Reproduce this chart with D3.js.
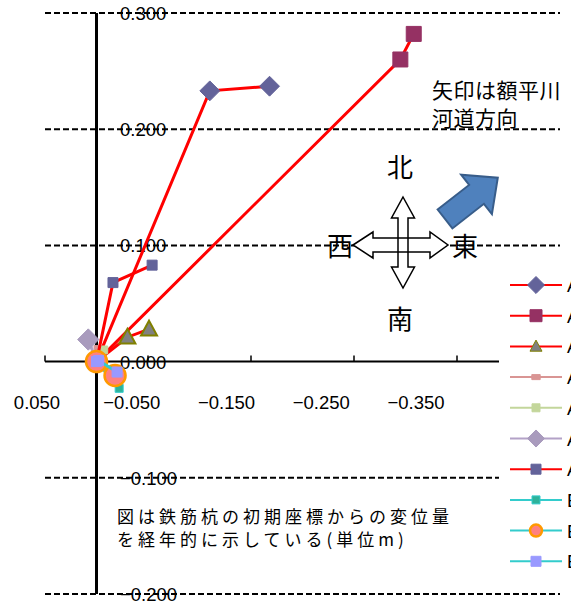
<!DOCTYPE html>
<html>
<head>
<meta charset="utf-8">
<script src="https://cdn.jsdelivr.net/npm/d3@7"></script>
<style>
  html, body { margin: 0; padding: 0; background: #fff; overflow: hidden; }
  svg { display: block; }
</style>
</head>
<body>
<div id="chart"></div>
<script>
// Displacement of survey pins from initial coordinates (m), x = east-west, y = north-south

const seriesNames = ['A-1', 'A-2', 'A-3', 'A-4', 'A-5', 'A-6', 'A-7', 'B-1', 'B-2', 'B-3'];

// each series starts at the initial coordinate (0, 0)
const seriesX = [
  [0, -0.110, -0.168],
  [0, -0.295, -0.308],
  [0, -0.030, -0.051],
  [0, -0.001],
  [0, -0.007],
  [0, 0.008],
  [0, -0.016, -0.054],
  [0, -0.022],
  [0, -0.018],
  [0, -0.002, -0.020]
];
const seriesY = [
  [0, 0.233, 0.237],
  [0, 0.260, 0.282],
  [0, 0.021, 0.028],
  [0, 0.012],
  [0, 0.010],
  [0, 0.019],
  [0, 0.068, 0.083],
  [0, -0.023],
  [0, -0.012],
  [0, 0.001, -0.009]
];

const xTicks = [0.05, -0.05, -0.15, -0.25, -0.35];
const yTicks = [0.3, 0.2, 0.1, 0.0, -0.1, -0.2];

// series styles
const styles = [
  { line: '#ff0000', shape: 'diamond', size: 14, fill: '#63639a', stroke: '#63639a' },
  { line: '#ff0000', shape: 'square', size: 15, fill: '#953163', stroke: '#953163' },
  { line: '#ff0000', shape: 'triangle', size: 16, fill: '#808080', stroke: '#808000' },
  { line: '#d99594', shape: 'rect', size: 7, fill: '#d99594', stroke: '#d99594' },
  { line: '#c3d69b', shape: 'square', size: 8, fill: '#c3d69b', stroke: '#c3d69b' },
  { line: '#b3a2c7', shape: 'diamond', size: 15, fill: '#a99bbd', stroke: '#a99bbd' },
  { line: '#ff0000', shape: 'square', size: 10, fill: '#63639a', stroke: '#63639a' },
  { line: '#33cccc', shape: 'square', size: 8, fill: '#2eb29a', stroke: '#33cccc' },
  { line: '#33cccc', shape: 'circle', size: 21, fill: '#ff8080', stroke: '#ff9900' },
  { line: '#33cccc', shape: 'square', size: 10, fill: '#9999ff', stroke: '#9999ff' }
];

const width = 571, height = 602;
const svg = d3.select('#chart').append('svg')
  .attr('width', width)
  .attr('height', height);

const x = d3.scaleLinear().domain([0.05, -0.45]).range([45, 560]);
const y = d3.scaleLinear().domain([0.3, -0.2]).range([13, 594]);
// tick labels sit on a slightly tighter spacing than the plot ticks
const xLabel = d3.scaleLinear().domain([0.05, -0.35]).range([37, 416]);

const numFont = '"Liberation Sans", Arial, sans-serif';
const jpFont = '"Noto Sans CJK JP", sans-serif';
const fmt = d3.format('.3f');

// dashed gridlines
svg.append('g').selectAll('line')
  .data(yTicks.filter(d => d !== 0))
  .enter().append('line')
  .attr('x1', x.range()[0]).attr('x2', x.range()[1])
  .attr('y1', d => y(d)).attr('y2', d => y(d))
  .attr('stroke', '#000')
  .attr('stroke-width', 2)
  .attr('stroke-dasharray', '6,3');

// horizontal axis
svg.append('line')
  .attr('x1', x.range()[0]).attr('x2', x.range()[1])
  .attr('y1', y(0)).attr('y2', y(0))
  .attr('stroke', '#000').attr('stroke-width', 2);

svg.append('g').selectAll('line')
  .data(d3.range(0.05, -0.46, -0.1))
  .enter().append('line')
  .attr('x1', d => x(d)).attr('x2', d => x(d))
  .attr('y1', y(0)).attr('y2', y(0) - 6)
  .attr('stroke', '#000').attr('stroke-width', 1.5);

// vertical axis at x = 0
svg.append('line')
  .attr('x1', x(0)).attr('x2', x(0))
  .attr('y1', y.range()[0]).attr('y2', y.range()[1])
  .attr('stroke', '#000').attr('stroke-width', 3);

// tick labels
svg.append('g').selectAll('text')
  .data(xTicks)
  .enter().append('text')
  .attr('x', d => xLabel(d))
  .attr('y', 409)
  .attr('text-anchor', 'middle')
  .style('font-family', numFont)
  .style('font-size', '18.5px')
  .text(d => fmt(d));

svg.append('g').selectAll('text')
  .data(yTicks)
  .enter().append('text')
  .attr('x', 120)
  .attr('y', d => y(d) + 7)
  .style('font-family', numFont)
  .style('font-size', '18.5px')
  .text(d => fmt(d));

// marker path generator
function markerPath(shape, s) {
  const h = s / 2;
  if (shape === 'diamond') return `M0,${-h * 1.42}L${h * 1.42},0L0,${h * 1.42}L${-h * 1.42},0Z`;
  if (shape === 'triangle') return `M0,${-h * 1.05}L${h},${h * 0.8}L${-h},${h * 0.8}Z`;
  if (shape === 'rect') return `M${-h},${-h * 0.6}H${h}V${h * 0.6}H${-h}Z`;
  if (shape === 'circle') return d3.symbol(d3.symbolCircle, Math.PI * h * h)();
  return `M${-h},${-h}H${h}V${h}H${-h}Z`;
}

const line = d3.line().x(d => x(d[0])).y(d => y(d[1]));

// series lines and markers
seriesNames.forEach((name, i) => {
  const st = styles[i];
  const pts = seriesX[i].map((v, j) => [v, seriesY[i][j]]);
  const g = svg.append('g').attr('class', 'series');

  g.append('path')
    .attr('d', line(pts))
    .attr('fill', 'none')
    .attr('stroke', st.line)
    .attr('stroke-width', 3);

  g.selectAll('path.marker')
    .data(pts.slice(1))
    .enter().append('path')
    .attr('class', 'marker')
    .attr('transform', d => `translate(${x(d[0])},${y(d[1])})`)
    .attr('d', markerPath(st.shape, st.size))
    .attr('fill', st.fill)
    .attr('stroke', st.stroke)
    .attr('stroke-width', st.shape === 'circle' ? 2.5 : (st.shape === 'triangle' ? 2 : 1));

  // the first point sits on the origin too
  if (st.shape === 'circle' || i === 9) {
    g.append('path')
      .attr('transform', `translate(${x(pts[0][0])},${y(pts[0][1])})`)
      .attr('d', markerPath(st.shape, st.size))
      .attr('fill', st.fill)
      .attr('stroke', st.stroke)
      .attr('stroke-width', st.shape === 'circle' ? 2.5 : 1);
  }
});

// compass
const compass = svg.append('g').attr('class', 'compass');
const vArrow = 'M403,197 L414.5,218 L408,218 L408,267 L414.5,267 L403,288 L391.5,267 L398,267 L398,218 L391.5,218 Z';
const hArrow = 'M353,245 L373,232 L373,238 L430,238 L430,232 L448,245 L430,258 L430,252 L373,252 L373,258 Z';
[hArrow, vArrow].forEach(p => compass.append('path').attr('d', p).attr('fill', '#fff'));
[hArrow, vArrow].forEach(p => compass.append('path').attr('d', p)
  .attr('fill', 'none').attr('stroke', '#000').attr('stroke-width', 1.5));

const dirs = [['北', 400, 177], ['南', 400, 329], ['西', 340, 256], ['東', 465, 256]];
compass.selectAll('text')
  .data(dirs)
  .enter().append('text')
  .attr('x', d => d[1]).attr('y', d => d[2])
  .attr('text-anchor', 'middle')
  .style('font-family', jpFont)
  .style('font-size', '26px')
  .text(d => d[0]);

// river direction arrow
svg.append('path')
  .attr('transform', 'translate(445,219) rotate(-38)')
  .attr('d', 'M0,-12 L40,-12 L40,-25 L67,0 L40,25 L40,12 L0,12 Z')
  .attr('fill', '#4f81bd')
  .attr('stroke', '#385d8a')
  .attr('stroke-width', 2);

// notes
const notes = [
  ['矢印は額平川', 432, 98, 21, 0.5],
  ['河道方向', 432, 126, 21, 0.5],
  ['図は鉄筋杭の初期座標からの変位量', 117, 523, 17, 4],
  ['を経年的に示している(単位m)', 117, 546, 17, 4]
];
svg.append('g').selectAll('text')
  .data(notes)
  .enter().append('text')
  .attr('x', d => d[1]).attr('y', d => d[2])
  .style('font-family', jpFont)
  .style('font-size', d => d[3] + 'px')
  .style('letter-spacing', d => d[4] + 'px')
  .text(d => d[0]);

// legend
const legend = svg.append('g').attr('class', 'legend');
legend.append('rect')
  .attr('x', 499).attr('y', 266)
  .attr('width', 90).attr('height', 313)
  .attr('fill', '#fff');

const legendItems = legend.selectAll('.legend-item')
  .data(seriesNames)
  .enter().append('g')
  .attr('class', 'legend-item')
  .attr('transform', (d, i) => `translate(0, ${285 + i * 30.7})`);

legendItems.append('line')
  .attr('x1', 510).attr('x2', 562)
  .attr('stroke', (d, i) => styles[i].line)
  .attr('stroke-width', 2);

legendItems.append('path')
  .attr('transform', 'translate(536,0)')
  .attr('d', (d, i) => markerPath(styles[i].shape, Math.min(styles[i].size, 12) * (styles[i].shape === 'rect' ? 1.2 : 1)))
  .attr('fill', (d, i) => styles[i].fill)
  .attr('stroke', (d, i) => styles[i].stroke)
  .attr('stroke-width', (d, i) => styles[i].shape === 'circle' ? 2.5 : 1);

legendItems.append('text')
  .attr('x', 567).attr('y', 7)
  .style('font-family', numFont)
  .style('font-size', '18.5px')
  .text(d => d);
</script>
</body>
</html>
